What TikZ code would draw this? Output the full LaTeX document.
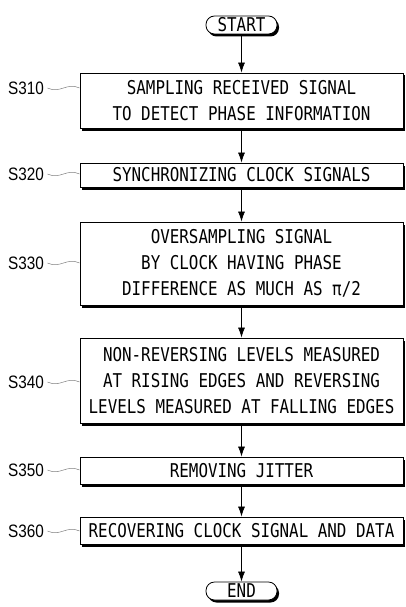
\documentclass[tikz,border=0pt]{standalone}
\usepackage{fontspec}
\setmainfont{DejaVu Sans Mono}[FakeStretch=0.835]
\newfontfamily\lblfont{Liberation Sans}[FakeStretch=0.85]
\usetikzlibrary{arrows.meta,shadows}

\begin{document}
\begin{tikzpicture}[x=1pt,y=-1pt,
		stepbox/.style={draw,fill=white,line width=0.8pt,minimum width=323pt,inner sep=0pt,align=center,
			font=\fontsize{19}{26}\selectfont,
			drop shadow={shadow xshift=2pt,shadow yshift=-2.5pt,opacity=1,fill=black}},
		term/.style={stepbox,rounded corners=8.5pt,minimum width=71pt,minimum height=18pt,font=\fontsize{19}{19}\selectfont},
		lbl/.style={font=\lblfont\fontsize{18}{18}\selectfont},
		flow/.style={-{Latex[length=10pt,width=7pt]},line width=0.7pt},
		lead/.style={gray,line width=0.5pt}]
		\useasboundingbox (0,0) rectangle (406,607);
		\node[term] (start) at (241.5,25) {START};
		\node[stepbox,minimum height=55pt] (s310) at (241.5,100.5) {SAMPLING RECEIVED SIGNAL\\TO DETECT PHASE INFORMATION};
		\node[stepbox,minimum height=24pt] (s320) at (241.5,175) {SYNCHRONIZING CLOCK SIGNALS};
		\node[stepbox,minimum height=83pt] (s330) at (241.5,263.5) {OVERSAMPLING SIGNAL\\BY CLOCK HAVING PHASE\\DIFFERENCE AS MUCH AS π/2};
		\node[stepbox,minimum height=85pt] (s340) at (241.5,380.5) {NON-REVERSING LEVELS MEASURED\\AT RISING EDGES AND REVERSING\\LEVELS MEASURED AT FALLING EDGES};
		\node[stepbox,minimum height=27pt] (s350) at (241.5,470.5) {REMOVING JITTER};
		\node[stepbox,minimum height=27pt] (s360) at (241.5,530.5) {RECOVERING CLOCK SIGNAL AND DATA};
		\node[term] (end) at (241.5,591) {END};
		% step numbers
		\node[lbl] (l310) at (26,88) {S310};
		\node[lbl] (l320) at (26,174) {S320};
		\node[lbl] (l330) at (26,263) {S330};
		\node[lbl] (l340) at (26,382) {S340};
		\node[lbl] (l350) at (26,470) {S350};
		\node[lbl] (l360) at (26,531) {S360};
		\foreach \n in {310,320,330,340,350,360}
			\draw[lead] (l\n.east) .. controls +(13,6) and +(-13,-6) .. (l\n -| s\n.west);
		% flow
		\draw[flow] (start) -- (s310);
		\draw[flow] (s310) -- (s320);
		\draw[flow] (s320) -- (s330);
		\draw[flow] (s330) -- (s340);
		\draw[flow] (s340) -- (s350);
		\draw[flow] (s350) -- (s360);
		\draw[flow] (s360) -- (end);
	\end{tikzpicture}
\end{document}
